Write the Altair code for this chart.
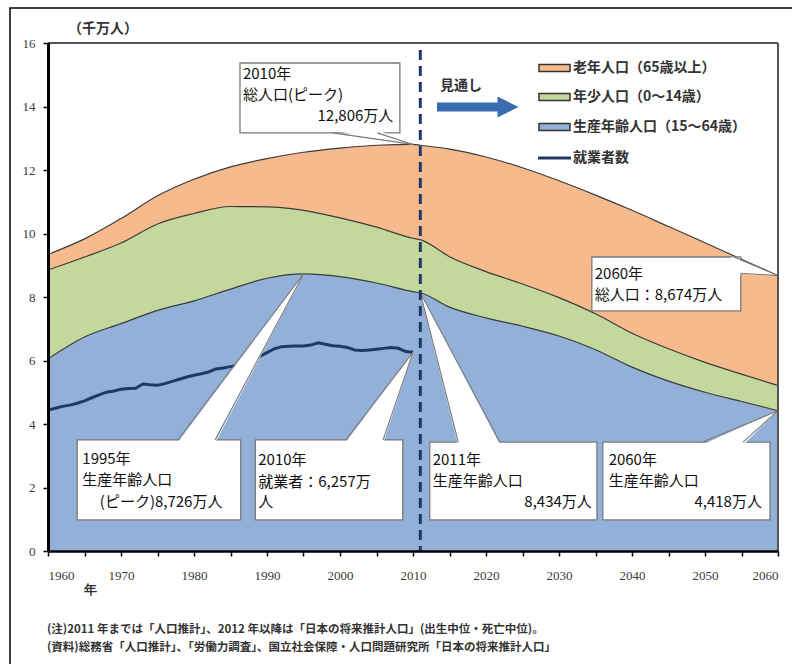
import altair as alt
import pandas as pd

# ---- population (千万人) ----
YEARS = [1960, 1965, 1970, 1975, 1980, 1985, 1990, 1995, 2000, 2005, 2010, 2011,
         2015, 2020, 2025, 2030, 2035, 2040, 2045, 2050, 2055, 2060]
TOTAL = [9.34, 9.83, 10.47, 11.19, 11.71, 12.10, 12.36, 12.56, 12.69, 12.78, 12.806, 12.78,
         12.66, 12.41, 12.07, 11.66, 11.21, 10.73, 10.22, 9.71, 9.19, 8.674]
UNDER65 = [8.85, 9.26, 9.70, 10.30, 10.63, 10.85, 10.84, 10.73, 10.49, 10.20, 9.85, 9.805,
           9.27, 8.80, 8.41, 7.98, 7.47, 6.86, 6.37, 5.94, 5.57, 5.21]
WORKING = [6.05, 6.74, 7.16, 7.58, 7.88, 8.25, 8.59, 8.726, 8.64, 8.44, 8.17, 8.134,
           7.68, 7.34, 7.08, 6.77, 6.34, 5.79, 5.35, 5.00, 4.71, 4.418]

# ---- employed persons (万人), 1960-2010 ----
EMP_YEARS = list(range(1960, 2011))
EMPLOYED = [4436, 4498, 4556, 4595, 4655, 4730, 4827, 4920, 5002, 5040,
            5094, 5121, 5126, 5259, 5237, 5223, 5271, 5342, 5408, 5479,
            5536, 5581, 5638, 5733, 5766, 5807, 5853, 5911, 6011, 6128,
            6249, 6369, 6436, 6450, 6453, 6457, 6486, 6557, 6514, 6462,
            6446, 6412, 6330, 6316, 6329, 6356, 6382, 6412, 6385, 6282, 6257]

X_TICKS = list(range(1960, 2061, 5))
Y_TICKS = list(range(0, 17, 2))

LEGEND_LABELS = ["老年人口（65歳以上）", "年少人口（0～14歳）", "生産年齢人口（15～64歳）", "就業者数"]
NOTES = ["(注)2011 年までは「人口推計」、2012 年以降は「日本の将来推計人口」(出生中位・死亡中位)。",
         "(資料)総務省「人口推計」、「労働力調査」、国立社会保障・人口問題研究所「日本の将来推計人口」"]

ORANGE, GREEN, BLUE = "#F6BA8C", "#C4D79C", "#93B1D8"
NAVY, EDGE, BOXLINE = "#1F3864", "#3c3c3c", "#7a7a7a"
JP = "Noto Sans CJK JP"
W, H = 730, 508

pop = pd.DataFrame({"year": YEARS, "total": TOTAL, "under65": UNDER65, "working": WORKING})
emp = pd.DataFrame({"year": EMP_YEARS, "employed": [v / 1000 for v in EMPLOYED]})
wk = dict(zip(YEARS, WORKING))
tt = dict(zip(YEARS, TOTAL))
em = dict(zip(EMP_YEARS, [v / 1000 for v in EMPLOYED]))

XS = alt.Scale(domain=[1960, 2060], nice=False, zero=False)
YS = alt.Scale(domain=[0, 16], nice=False)
XAX = alt.Axis(values=X_TICKS, format="d", title=None, grid=False, zindex=1,
               labelExpr="datum.value % 10 === 0 ? datum.label : ''",
               domainColor="black", domainWidth=2.5, tickColor="black", tickWidth=1.5,
               tickSize=5, labelFont="Liberation Serif", labelFontSize=13,
               labelColor="#3a3a3a", labelPadding=13)
YAX = alt.Axis(values=Y_TICKS, title=None, grid=False, zindex=1, domainColor="black",
               domainWidth=3, tickColor="black", tickWidth=1.5, tickSize=5,
               labelFont="Liberation Serif", labelFontSize=13, labelColor="#3a3a3a",
               labelPadding=8)


def X(f):
    return alt.X(f"{f}:Q", scale=XS, axis=XAX)


def Y(f):
    return alt.Y(f"{f}:Q", scale=YS, axis=YAX)


layers = []

# population bands (drawn as overlapping areas from zero)
for field, col in [("total", ORANGE), ("under65", GREEN), ("working", BLUE)]:
    layers.append(alt.Chart(pop).mark_area(color=col, interpolate="monotone", opacity=1)
                  .encode(x=X("year"), y=Y(field)))
for field in ["total", "under65", "working"]:
    layers.append(alt.Chart(pop).mark_line(color=EDGE, strokeWidth=1.2, interpolate="monotone")
                  .encode(x=X("year"), y=Y(field)))

# employed persons
layers.append(alt.Chart(emp).mark_line(color=NAVY, strokeWidth=3)
              .encode(x=X("year"), y=Y("employed")))

# ---- callout boxes (data units) ----
boxes = pd.DataFrame({
    "x1": [1986.3, 2034.5, 1964.0, 1988.4, 2012.3, 2036.0],
    "x2": [2008.2, 2054.9, 1986.4, 2008.6, 2035.2, 2058.9],
    "y1": [13.17, 7.56, 0.98, 0.98, 0.98, 0.98],
    "y2": [15.37, 9.26, 3.50, 3.50, 3.43, 3.43],
})
layers.append(alt.Chart(boxes).mark_rect(fill="white", stroke=BOXLINE, strokeWidth=1.3)
              .encode(x=X("x1"), x2="x2", y=Y("y1"), y2="y2"))

# wedge pointers: tip at the value, two base points on the box edge
wedges = [
    ("w1", (2010, tt[2010]), (1999.0, 13.17), (2005.1, 13.17), (0, 0.08)),
    ("w2", (2060, tt[2060]), (2054.0, 9.26), (2054.9, 8.75), (-0.4, 0)),
    ("w3", (1995, wk[1995]), (1977.8, 3.50), (1982.9, 3.50), (0, -0.08)),
    ("w4", (2010, em[2010]), (2000.8, 3.50), (2005.9, 3.50), (0, -0.08)),
    ("w5", (2011, wk[2011]), (2016.2, 3.43), (2021.9, 3.43), (0, -0.08)),
    ("w6", (2060, wk[2060]), (2049.7, 3.43), (2055.2, 3.43), (0, -0.08)),
]
fill_rows, side_rows = [], []
for name, tip, b1, b2, (dx, dy) in wedges:
    pts = [tip, (b1[0] + dx, b1[1] + dy), (b2[0] + dx, b2[1] + dy), tip]
    for i, (px, py) in enumerate(pts):
        fill_rows.append({"w": name, "o": i, "year": px, "val": py})
    for j, b in enumerate([b1, b2]):
        side_rows.append({"w": f"{name}{j}", "o": 0, "year": tip[0], "val": tip[1]})
        side_rows.append({"w": f"{name}{j}", "o": 1, "year": b[0], "val": b[1]})
layers.append(alt.Chart(pd.DataFrame(fill_rows))
              .mark_line(fill="white", stroke="white", strokeWidth=0.5)
              .encode(x=X("year"), y=Y("val"), detail="w:N", order="o:Q"))
layers.append(alt.Chart(pd.DataFrame(side_rows))
              .mark_line(stroke=BOXLINE, strokeWidth=1.1)
              .encode(x=X("year"), y=Y("val"), detail="w:N", order="o:Q"))

# projection boundary
layers.append(alt.Chart(pd.DataFrame({"year": [2011], "val": [15.78], "val2": [0]}))
              .mark_rule(color=NAVY, strokeWidth=3, strokeDash=[10, 6])
              .encode(x=X("year"), y=Y("val"), y2="val2"))

# callout texts
left_txt = pd.DataFrame({
    "year": [1986.7, 1986.7, 2034.9, 2034.9, 1964.7, 1964.7, 1967.1,
             1988.8, 1988.8, 1988.8, 2012.7, 2012.7, 2036.8, 2036.8],
    "val": [15.02, 14.36, 8.72, 8.06, 2.90, 2.24, 1.54,
            2.87, 2.17, 1.54, 2.87, 2.20, 2.87, 2.20],
    "text": ["2010年", "総人口(ピーク)", "2060年", "総人口：8,674万人",
             "1995年", "生産年齢人口", "(ピーク)8,726万人",
             "2010年", "就業者：6,257万", "人",
             "2011年", "生産年齢人口", "2060年", "生産年齢人口"],
})
right_txt = pd.DataFrame({
    "year": [2007.3, 2034.5, 2057.8],
    "val": [13.70, 1.54, 1.54],
    "text": ["12,806万人", "8,434万人", "4,418万人"],
})
layers.append(alt.Chart(left_txt).mark_text(align="left", baseline="middle", font=JP,
                                            fontSize=15, color="#111")
              .encode(x=X("year"), y=Y("val"), text="text:N"))
layers.append(alt.Chart(right_txt).mark_text(align="right", baseline="middle", font=JP,
                                             fontSize=15, color="#111")
              .encode(x=X("year"), y=Y("val"), text="text:N"))

one = pd.DataFrame({"k": [0]})

# legend
sw_y = [25, 54, 84, 115]
for lab, col, yy in zip(LEGEND_LABELS[:3], [ORANGE, GREEN, BLUE], sw_y[:3]):
    layers.append(alt.Chart(one).mark_rect(fill=col, stroke="#333", strokeWidth=1.5)
                  .encode(x=alt.value(491), x2=alt.value(522), y=alt.value(yy - 3.5),
                          y2=alt.value(yy + 3.5)))
layers.append(alt.Chart(one).mark_rule(color=NAVY, strokeWidth=3)
              .encode(x=alt.value(490), x2=alt.value(523), y=alt.value(sw_y[3])))
for lab, yy in zip(LEGEND_LABELS, sw_y):
    layers.append(alt.Chart(one).mark_text(align="left", baseline="middle", font=JP,
                                           fontSize=14, fontWeight="bold", color="#333")
                  .encode(x=alt.value(525), y=alt.value(yy), text=alt.value(lab)))

# outlook arrow
layers.append(alt.Chart(one).mark_text(align="left", baseline="middle", font=JP, fontSize=14,
                                       fontWeight="bold", color="#333")
              .encode(x=alt.value(392), y=alt.value(43), text=alt.value("見通し")))
layers.append(alt.Chart(one).mark_rule(color="#3A6DB0", strokeWidth=9)
              .encode(x=alt.value(389), x2=alt.value(454), y=alt.value(64)))
layers.append(alt.Chart(one).mark_point(shape="M-1,-1L1,0L-1,1Z", filled=True, size=441,
                                        color="#3A6DB0", opacity=1)
              .encode(x=alt.value(460), y=alt.value(64)))

# unit, axis word, notes
layers.append(alt.Chart(one).mark_text(align="left", baseline="middle", font=JP, fontSize=14,
                                       fontWeight="bold", color="#333")
              .encode(x=alt.value(20), y=alt.value(-14), text=alt.value("（千万人）")))
layers.append(alt.Chart(one).mark_text(align="center", baseline="middle", font="Liberation Serif",
                                       fontSize=13, fontWeight="bold", color="#333")
              .encode(x=alt.value(42), y=alt.value(H + 39), text=alt.value("年")))
for i, note in enumerate(NOTES):
    layers.append(alt.Chart(one).mark_text(align="left", baseline="middle", font=JP,
                                           fontSize=11.5, fontWeight="bold", color="#333")
                  .encode(x=alt.value(-1), y=alt.value(H + 79 + 18 * i), text=alt.value(note)))

# plot frame (top and right) and outer border
layers.append(alt.Chart(one).mark_rule(color="#555", strokeWidth=2)
              .encode(x=alt.value(0), x2=alt.value(W), y=alt.value(0)))
layers.append(alt.Chart(one).mark_rule(color="#555", strokeWidth=2)
              .encode(x=alt.value(W), y=alt.value(0), y2=alt.value(H)))
layers.append(alt.Chart(one).mark_rect(fillOpacity=0, stroke="black", strokeWidth=1.5)
              .encode(x=alt.value(-38), x2=alt.value(780), y=alt.value(-35), y2=alt.value(640)))

chart = alt.layer(*layers).properties(
    width=W, height=H,
    padding={"left": 48, "top": 43, "right": 14, "bottom": 113},
    autosize=alt.AutoSizeParams(type="none"),
    background="white",
).configure_view(strokeWidth=0)

chart.save("out.html", embed_options={"renderer": "svg", "actions": False})
